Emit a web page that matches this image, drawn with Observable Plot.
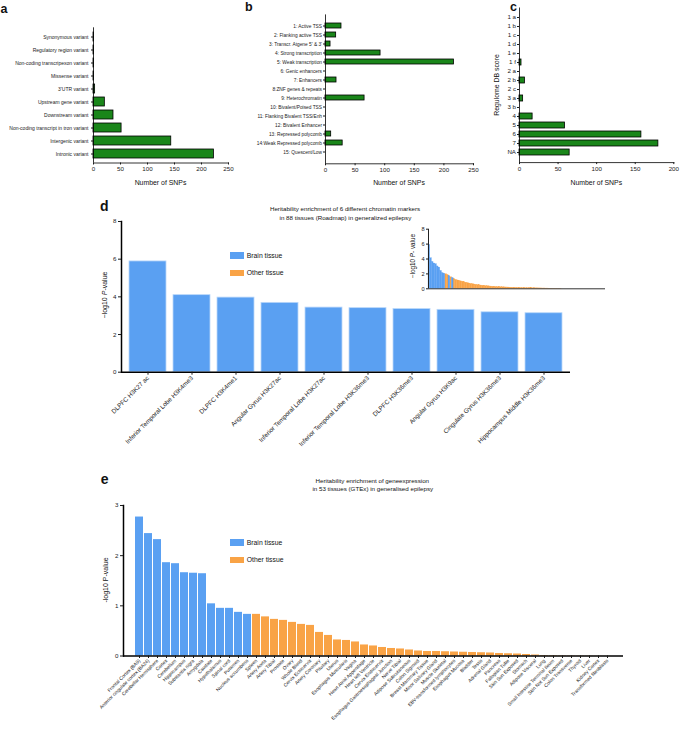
<!DOCTYPE html>
<html><head><meta charset="utf-8">
<script src="https://cdn.jsdelivr.net/npm/d3@7"></script>
<script src="https://cdn.jsdelivr.net/npm/@observablehq/plot@0.6"></script>
<style>
body{margin:0;background:#fff;}
#fig{position:relative;width:680px;height:733px;overflow:hidden;font-family:"Liberation Sans",Arial,sans-serif;color:#111;background:#fff;}
#fig svg{position:absolute;left:0;top:0;}
.t{position:absolute;white-space:nowrap;line-height:1;transform-origin:0 0;}
.box{position:absolute;}
</style></head><body><div id="fig"></div>
<script>
// ---------- DATA ----------
const catsA = ["Synonymous variant","Regulatory region variant","Non-coding transcripexon variant","Missense variant","3'UTR variant","Upstream gene variant","Downstream variant","Non-coding transcript in tron variant","Intergenic variant","Intronic variant"];
const valsA = [1,1,1,1,3,21,37,52,144,223];

const catsB = ["1: Active TSS","2: Flanking active TSS","3: Transcr. Atgene 5' & 3'","4: Strong transcription","5: Weak transcription","6: Genic enhancers","7: Enhancers","8:ZNF genes & repeats","9: Heterochromatin","10: Bivalent/Poised TSS","11: Flanking Bivalent TSS/Enh","12: Bivalent Enhancer","13: Repressed polycomb","14:Weak Repressed polycomb","15: Quescent/Low"];
const valsB = [27,18,8.5,93,217,0,18.6,0,66,0,0,0,9.6,29,0];

const catsC = ["1 a","1 b","1 c","1 d","1 e","1 f","2 a","2 b","2 c","3 a","3 b","4","5","6","7","NA"];
const valsC = [0,0,0,0,0,2.6,0,7,0,4.7,0,17,59,158,180,65];

const catsD = ["DLPFC H3K27 ac","Inferior Temporal Lobe H3K4me3","DLPFC H3K4me1","Angular Gyrus H3K27ac","Inferior Temporal Lobe H3K27ac","Inferior Temporal Lobe H3K36me3","DLPFC H3K36me3","Angular Gyrus H3K9ac","Cingulate Gyrus H3K36me3","Hippocampus Middle H3K36me3"];
const valsD = [5.88,4.09,3.96,3.68,3.43,3.40,3.35,3.31,3.18,3.13];

// inset: sorted enrichment of all marker/tissue pairs
const valsI = [5.9,4.1,3.6,3.4,3.3,3.0,2.85,2.4,2.1,2.0,
 1.95,1.85,1.7,1.55,1.45,1.3,1.2,1.12,1.05,1.0,
 0.95,0.88,0.82,0.76,0.71,0.66,0.62,0.58,0.54,0.5,
 0.47,0.44,0.41,0.38,0.36,0.34,0.32,0.3,0.28,0.26,
 0.25,0.23,0.22,0.21,0.2,0.19,0.18,0.17,0.16,0.15,
 0.14,0.14,0.13,0.12,0.12,0.11,0.1,0.1,0.09,0.09,
 0.08,0.08,0.07,0.07,0.06,0.06,0.05,0.05,0.04,0.04,
 0.03,0.03,0.02,0.02,0.015,0.01,0.01,0.005,0.005,0.002];
const typesI = ["B","B","B","B","B","B","B","B","B","B","O","O","B","O","B","O"]; // rest are "O"
const slotsI = 106;

const catsE = ["Frontal Cortex (BA9)","Anterior cingulate cortex (BA24)","Cerebellar Hemisphere","Cortex","Cerebellum","Hippocampus","Substantia nigra","Amygdala","Caudate","Hypothalamus","Spinal cord","Putamen","Nucleus accumbens","Spleen","Artery Aorta","Artery Tibial","Prostate","Ovary","Whole Blood","Cervix Ectocervix","Artery Coronary","Pituitary","Uterus","Esophagus Muscularis","Vagina","Heart Atrial Appendage","Heart left Ventricle","Cervix Endocervix","Esophagus Gastroesophageal Junction","Nerve Tibial","Adipose Subcutaneous","Colon Sigmoid","Breast Mammary Tissue","Minor Salivary Gland","Muscle Skeletal","EBV-transformed lymphocytes","Esophagus Mucosa","Bladder","Testis","Adrenal Gland","Pancreas","Fallopian Tube","Skin Sun Exposed","Stomach","Adipose Visceral","Lung","Small Intestine Terminal Ileum","Skin Not Sun Exposed","Colon Transverse","Thyroid","Liver","Kidney Cortex","Transformed fibroblasts"];
const valsE = [2.77,2.44,2.32,1.86,1.84,1.66,1.65,1.64,1.04,0.95,0.95,0.87,0.83,
 0.83,0.78,0.73,0.71,0.67,0.63,0.61,
 0.47,0.41,0.32,0.31,0.28,0.22,0.20,0.17,0.15,0.14,
 0.12,0.10,0.09,0.09,0.085,0.08,0.075,0.07,0.065,0.06,
 0.05,0.045,0.04,0.03,0.02,0.01,0.008,0.006,0.005,0.004,0.003,0.002,0.001];
const nBrainE = 13;

const ticksA = [0,50,100,150,200,250];
const ticksB = [0,50,100,150,200,250];
const ticksC = [0,50,100,150,200];
const ticksD = [0,2,4,6,8];
const ticksE = [0,1,2,3];

// ---------- STYLE ----------
const GREEN = "#1a861a", BLUE = "#5aa0f2", ORANGE = "#f9a346", INK = "#1a1a1a";
const W = 680, H = 733;
const fig = document.getElementById("fig");
const FONT = "'Liberation Sans', Arial, sans-serif";
const fmtInt = d3.format("d");

function mk(opts) {
  const svg = Plot.plot({width: W, height: H, style: {background: "transparent", fontFamily: FONT, color: INK, overflow: "visible"}, ...opts});
  svg.style.position = "absolute"; svg.style.left = "0px"; svg.style.top = "0px";
  svg.style.background = "transparent";
  fig.append(svg);
}
function txt(s, x, y, size, o = {}) {
  const d = document.createElement("div");
  d.className = "t";
  if (o.html) d.innerHTML = s; else d.textContent = s;
  d.style.fontSize = size + "px";
  d.style.fontWeight = o.weight || "normal";
  d.style.left = x + "px"; d.style.top = y + "px";
  const tx = o.anchor === "middle" ? "-50%" : o.anchor === "end" ? "-100%" : "0";
  d.style.transform = `rotate(${o.rotate || 0}deg) translate(${tx},-50%)`;
  fig.append(d);
}
function box(x, y, w, h, c) {
  const d = document.createElement("div");
  d.className = "box";
  Object.assign(d.style, {left: x + "px", top: y + "px", width: w + "px", height: h + "px", background: c});
  fig.append(d);
}

const dataA = catsA.map((c, i) => ({c, v: valsA[i]}));
const dataB = catsB.map((c, i) => ({c, v: valsB[i]}));
const dataC = catsC.map((c, i) => ({c, v: valsC[i]}));
const dataD = catsD.map((c, i) => ({c, v: valsD[i]}));
const dataI = valsI.map((v, i) => ({i, v, t: typesI[i] || "O"}));
const dataE = catsE.map((c, i) => ({c, v: valsE[i], t: i < nBrainE ? "B" : "O"}));

// ---------- PANEL a ----------
mk({
  marginTop: 27.3, marginBottom: H - 162.5, marginLeft: 93, marginRight: W - 228,
  x: {domain: [0, 250]},
  y: {domain: catsA, paddingInner: 0.28, paddingOuter: 0.14},
  marks: [
    Plot.barX(dataA, {x: "v", y: "c", fill: GREEN, stroke: "#000", strokeWidth: 0.8}),
    Plot.ruleX([0], {stroke: "#000", strokeWidth: 0.8}),
    Plot.frame({anchor: "bottom", stroke: "#000", strokeWidth: 0.8}),
    Plot.axisY({anchor: "left", tickSize: 2, tickPadding: 3, fontSize: 5, label: null, color: INK}),
    Plot.axisX({ticks: ticksA, tickSize: 2, tickPadding: 2, fontSize: 6.2, label: null, color: INK})
  ]
});
// ---------- PANEL b ----------
mk({
  marginTop: 14.4, marginBottom: H - 163.3, marginLeft: 325, marginRight: W - 473,
  x: {domain: [0, 250]},
  y: {domain: catsB, paddingInner: 0.4, paddingOuter: 0.2},
  marks: [
    Plot.barX(dataB.filter(d => d.v > 0), {x: "v", y: "c", fill: GREEN, stroke: "#000", strokeWidth: 0.8}),
    Plot.ruleX([0], {stroke: "#000", strokeWidth: 0.8}),
    Plot.frame({anchor: "bottom", stroke: "#000", strokeWidth: 0.8}),
    Plot.axisY({anchor: "left", tickSize: 2, tickPadding: 1.5, fontSize: 4.8, label: null, color: INK}),
    Plot.axisX({ticks: ticksB, tickSize: 2, tickPadding: 2, fontSize: 6.2, label: null, color: INK})
  ]
});
// ---------- PANEL c ----------
mk({
  marginTop: 7.5, marginBottom: H - 162.1, marginLeft: 519, marginRight: W - 673.3,
  x: {domain: [0, 200]},
  y: {domain: catsC, paddingInner: 0.28, paddingOuter: 0.14},
  marks: [
    Plot.barX(dataC.filter(d => d.v > 0), {x: "v", y: "c", fill: GREEN, stroke: "#000", strokeWidth: 0.8}),
    Plot.ruleX([0], {stroke: "#000", strokeWidth: 0.8}),
    Plot.frame({anchor: "bottom", stroke: "#000", strokeWidth: 0.8}),
    Plot.axisY({anchor: "left", tickSize: 2, tickPadding: 1.5, fontSize: 6.2, label: null, color: INK}),
    Plot.axisX({ticks: ticksC, tickSize: 2, tickPadding: 2, fontSize: 6.2, label: null, color: INK})
  ]
});
// ---------- PANEL d ----------
mk({
  marginTop: 221, marginBottom: H - 371.7, marginLeft: 121, marginRight: W - 570,
  x: {domain: catsD, paddingInner: 0.17, paddingOuter: 0.11},
  y: {domain: [0, 8]},
  marks: [
    Plot.barY(dataD, {x: "c", y: "v", fill: BLUE, stroke: "#b9d7fa", strokeWidth: 0.8}),
    Plot.ruleY([0], {stroke: "#000", strokeWidth: 1.5}),
    Plot.frame({anchor: "left", stroke: "#000", strokeWidth: 1.5}),
    Plot.axisY({ticks: ticksD, tickFormat: fmtInt, tickSize: 3, tickPadding: 2, fontSize: 6.2, label: null, color: INK}),
    Plot.axisX({tickRotate: -45, tickSize: 3, tickPadding: 2, fontSize: 6.3, label: null, color: INK})
  ]
});
// ---------- INSET d ----------
mk({
  marginTop: 228.7, marginBottom: H - 288.3, marginLeft: 428, marginRight: W - 605,
  x: {domain: [0, slotsI], axis: null},
  y: {domain: [0, 8]},
  marks: [
    Plot.rectY(dataI.filter(d => d.t === "O"), {x1: "i", x2: d => d.i + 1, y: "v", fill: ORANGE, stroke: ORANGE, strokeWidth: 0.3}),
    Plot.rectY(dataI.filter(d => d.t === "B"), {x1: "i", x2: d => d.i + 1, y: "v", fill: BLUE, stroke: BLUE, strokeWidth: 0.3}),
    Plot.ruleY([0], {stroke: "#333", strokeWidth: 1}),
    Plot.ruleX([0], {stroke: "#222", strokeWidth: 1}),
    Plot.axisY({ticks: ticksD, tickFormat: fmtInt, tickSize: 2, tickPadding: 2, fontSize: 5.6, label: null, color: INK})
  ]
});
// ---------- PANEL e ----------
mk({
  marginTop: 505, marginBottom: H - 655.5, marginLeft: 123, marginRight: W - 623,
  x: {domain: catsE, paddingInner: 0.15, paddingOuter: 0.45},
  y: {domain: [0, 3]},
  marks: [
    Plot.barY(dataE.filter(d => d.t === "B"), {x: "c", y: "v", fill: BLUE}),
    Plot.barY(dataE.filter(d => d.t === "O"), {x: "c", y: "v", fill: ORANGE}),
    Plot.ruleY([0], {stroke: "#000", strokeWidth: 1.5}),
    Plot.frame({anchor: "left", stroke: "#000", strokeWidth: 1.5}),
    Plot.axisY({ticks: ticksE, tickFormat: fmtInt, tickSize: 3, tickPadding: 2, fontSize: 6.2, label: null, color: INK}),
    Plot.axisX({tickRotate: -45, tickSize: 2.5, tickPadding: 1.5, fontSize: 4.8, label: null, color: INK})
  ]
});

// ---------- TEXT ----------
txt("a", 0.5, 8.6, 12.5, {weight: "bold"});
txt("b", 245, 7.2, 12.5, {weight: "bold"});
txt("c", 510, 7.2, 12.5, {weight: "bold"});
txt("d", 100, 206, 14, {weight: "bold"});
txt("e", 100.7, 479, 14, {weight: "bold"});

txt("Number of SNPs", 160.5, 182.7, 6.9, {anchor: "middle"});
txt("Number of SNPs", 399, 182.7, 6.9, {anchor: "middle"});
txt("Number of SNPs", 596.3, 182.7, 6.9, {anchor: "middle"});
txt("Regulome DB score", 496.7, 84.5, 6.9, {anchor: "middle", rotate: -90});

txt("Heritability enrichment of 6 different chromatin markers", 345, 209.3, 6.2, {anchor: "middle"});
txt("in 88 tissues (Roadmap) in generalized epilepsy", 345.4, 218.3, 6.2, {anchor: "middle"});
txt("−log10 <i>P</i>-value", 104, 295, 7, {anchor: "middle", rotate: -90, html: true});
txt("−log10 <i>P</i>- value", 413, 256, 6.3, {anchor: "middle", rotate: -90, html: true});

box(229.7, 252.3, 14.3, 6.8, BLUE);
txt("Brain tissue", 246.8, 255.8, 6.8);
box(229.7, 269.7, 14.3, 6.8, ORANGE);
txt("Other tissue", 246.8, 273.2, 6.8);

txt("Heritability enrichment of geneexpression", 372.3, 480.7, 6.2, {anchor: "middle"});
txt("in 53 tissues (GTEx) in generalised epilepsy", 372.8, 489.3, 6.2, {anchor: "middle"});
txt("-log10 P-value", 105, 580, 7, {anchor: "middle", rotate: -90});

box(229.7, 539, 14.3, 6.8, BLUE);
txt("Brain tissue", 246.8, 542.5, 6.8);
box(229.7, 556.7, 14.3, 6.8, ORANGE);
txt("Other tissue", 246.8, 560.2, 6.8);
</script></body></html>
